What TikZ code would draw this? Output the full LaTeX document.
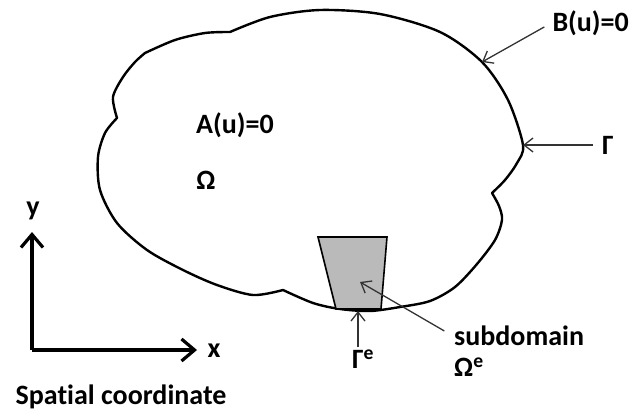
\documentclass[tikz,border=0pt]{standalone}
\usepackage{fontspec}
\setmainfont{Carlito}[Ligatures=NoCommon]
\usetikzlibrary{arrows.meta}
\begin{document}
\begin{tikzpicture}[x=1pt,y=-1pt,
  lbl/.style={font=\bfseries\fontsize{28}{30}\selectfont, inner sep=1pt},
  cloudline/.style={line width=2.4pt, line join=round},
  thinarrow/.style={draw=black!80, line width=1.3pt, -{Straight Barb[length=9pt,width=14pt,line width=1.3pt]}},
  axisarrow/.style={line width=3.8pt, -{Straight Barb[length=13pt,width=22pt,line width=3.2pt]}},
  subbox/.style={fill=black!27, draw=black, line width=1.6pt, line join=miter}]
\useasboundingbox (0,0) rectangle (631,413);
% cloud
\draw[cloudline]
  plot[smooth] coordinates {(230,32) (270,17) (320,10) (380,14) (440,32) (482,62) (508,100) (523,145) (517,163) (505,180) (492,193)}
  -- plot[smooth] coordinates {(492,193) (499,206) (502,220) (495,240) (477,264) (455,287) (430,301) (400,307) (370,311) (340,309) (313,303) (283,290)}
  -- plot[smooth] coordinates {(283,290) (253,295) (217,285) (183,270) (147,250) (117,223) (100,190) (98,157) (105,133) (117,118)}
  -- plot[smooth] coordinates {(117,118) (113,97) (123,77) (135,62) (145,53)}
  -- plot[smooth] coordinates {(145,53) (175,40) (205,33) (230,32)} -- cycle;
% subdomain element
\draw[subbox] (318,237) -- (387,237) -- (381,309) -- (336,309) -- cycle;
% contact coordinates
\coordinate (cB) at (482,62);
\coordinate (cG) at (523,145);
\coordinate (cS) at (360,282);
\coordinate (cGe) at (358,311);
\coordinate (tGe) at (358,347);
% labels
\node[lbl] (Alab) at (235,125) {A(u)=0};
\node[lbl] (Om) at (206,180) {Ω};
\node[lbl, anchor=east] (Blab) at (630,23) {B(u)=0};
\node[lbl, anchor=west] (Glab) at (601,145) {Γ};
\node[lbl, anchor=west] (Slab) at (453,336) {subdomain};
\node[lbl, anchor=west] (Oelab) at (453,367) {Ω\textsuperscript{e}};
\node[lbl, anchor=north] (Gelab) at (363,349) {Γ\textsuperscript{e}};
% connectors
\draw[thinarrow, shorten <=8pt] (Blab.west) -- (cB);
\draw[thinarrow, shorten <=8pt] (Glab.west) -- (cG);
\draw[thinarrow, shorten <=10pt] (Slab.west) -- (cS);
\draw[thinarrow] (tGe) -- (cGe);
% axes
\coordinate (O) at (32,350);
\coordinate (yend) at (32,232);
\coordinate (xend) at (197,350);
\draw[axisarrow] (O) -- (yend);
\draw[axisarrow] (O) -- (xend);
\node[lbl] (ylab) at (33,211) {y};
\node[lbl] (xlab) at (214,351) {x};
\node[lbl] (spat) at (121,397) {Spatial coordinate};
\end{tikzpicture}
\end{document}
